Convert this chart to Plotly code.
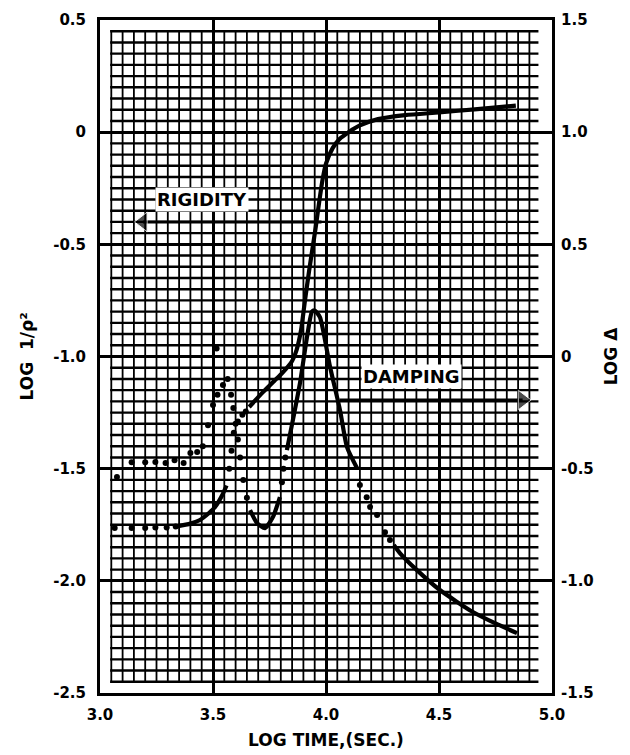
import plotly.graph_objects as go

# ---------------- data ----------------
# x : LOG TIME (sec)
# Rigidity, left axis (LOG 1/rho^2)
rig_dot1_x = [3.065, 3.14, 3.20, 3.245, 3.295, 3.335]
rig_dot1_y = [-1.765, -1.765, -1.765, -1.762, -1.762, -1.758]
rig_sol1_x = [3.34, 3.40, 3.44, 3.48, 3.51, 3.54, 3.56]
rig_sol1_y = [-1.757, -1.745, -1.73, -1.70, -1.67, -1.62, -1.575]
rig_dot2_x = [3.572, 3.582, 3.592, 3.61, 3.63, 3.645]
rig_dot2_y = [-1.50, -1.42, -1.34, -1.29, -1.26, -1.245]
rig_sol2_x = [3.66, 3.72, 3.77, 3.81, 3.85, 3.87, 3.89, 3.907, 3.925, 3.94,
              3.955, 3.97, 3.985, 4.00, 4.03, 4.06, 4.10, 4.15, 4.23, 4.35,
              4.50, 4.67, 4.84]
rig_sol2_y = [-1.225, -1.16, -1.11, -1.07, -1.02, -0.97, -0.88, -0.75, -0.62, -0.52,
              -0.42, -0.31, -0.21, -0.14, -0.07, -0.03, 0.0, 0.03, 0.058, 0.076,
              0.088, 0.103, 0.118]

# Damping, right axis (LOG delta)
dam_dot1_x = [3.075, 3.14, 3.20, 3.245, 3.29, 3.33, 3.37, 3.40, 3.43, 3.455,
              3.478, 3.50, 3.52, 3.544, 3.565, 3.516,
              3.58, 3.59, 3.60, 3.61, 3.62, 3.634, 3.65]
dam_dot1_y = [-0.537, -0.471, -0.471, -0.470, -0.475, -0.462, -0.475, -0.430, -0.426, -0.400,
              -0.306, -0.216, -0.170, -0.127, -0.100, 0.036,
              -0.17, -0.23, -0.30, -0.37, -0.45, -0.55, -0.63]
dam_sol1_x = [3.664, 3.695, 3.73, 3.765, 3.796]
dam_sol1_y = [-0.685, -0.743, -0.765, -0.716, -0.627]
dam_dot2_x = [3.805, 3.812, 3.82]
dam_dot2_y = [-0.56, -0.50, -0.45]
dam_sol2_x = [3.827, 3.86, 3.885, 3.916, 3.938, 3.95, 3.973, 4.018, 4.062, 4.093, 4.137]
dam_sol2_y = [-0.417, -0.25, -0.118, 0.087, 0.20, 0.205, 0.176, -0.047, -0.239, -0.404, -0.497]
dam_dot3_x = [4.15, 4.18, 4.195, 4.226, 4.261, 4.283]
dam_dot3_y = [-0.573, -0.627, -0.671, -0.707, -0.783, -0.818]
dam_sol3_x = [4.30, 4.327, 4.40, 4.504, 4.65, 4.75, 4.845]
dam_sol3_y = [-0.84, -0.876, -0.95, -1.041, -1.139, -1.19, -1.233]

# direction arrows (tail, head)
rig_arrow_x = [3.98, 3.19]
rig_arrow_y = [-0.40, -0.40]
dam_arrow_x = [4.06, 4.87]
dam_arrow_y = [-0.194, -0.194]

# tick labels
x_tick_vals = [3.0, 3.5, 4.0, 4.5, 5.0]
x_tick_text = ["3.0", "3.5", "4.0", "4.5", "5.0"]
yl_tick_vals = [0.5, 0.0, -0.5, -1.0, -1.5, -2.0, -2.5]
yl_tick_text = ["0.5", "0", "-0.5", "-1.0", "-1.5", "-2.0", "-2.5"]
yr_tick_vals = [1.5, 1.0, 0.5, 0.0, -0.5, -1.0, -1.5]
yr_tick_text = ["1.5", "1.0", "0.5", "0", "-0.5", "-1.0", "-1.5"]

# ---------------- figure ----------------
FONT = "DejaVu Sans"
BLACK = "#000000"
LW = 4.2
MS = 6

fig = go.Figure()

def solid(x, y, yaxis):
    fig.add_trace(go.Scatter(x=x, y=y, mode="lines", yaxis=yaxis,
                             line=dict(color=BLACK, width=LW, shape="spline", smoothing=0.6),
                             showlegend=False))

def dotted(x, y, yaxis):
    fig.add_trace(go.Scatter(x=x, y=y, mode="markers", yaxis=yaxis,
                             marker=dict(color=BLACK, size=MS, symbol="circle"),
                             showlegend=False))

def arrow(x, y, yaxis, head):
    fig.add_trace(go.Scatter(x=x, y=y, mode="lines+markers", yaxis=yaxis,
                             line=dict(color=BLACK, width=3),
                             marker=dict(color=BLACK, size=[0, 17], symbol=["circle", head]),
                             showlegend=False))

dotted(rig_dot1_x, rig_dot1_y, "y")
solid(rig_sol1_x, rig_sol1_y, "y")
dotted(rig_dot2_x, rig_dot2_y, "y")
solid(rig_sol2_x, rig_sol2_y, "y")

dotted(dam_dot1_x, dam_dot1_y, "y2")
solid(dam_sol1_x, dam_sol1_y, "y2")
dotted(dam_dot2_x, dam_dot2_y, "y2")
solid(dam_sol2_x, dam_sol2_y, "y2")
dotted(dam_dot3_x, dam_dot3_y, "y2")
solid(dam_sol3_x, dam_sol3_y, "y2")

arrow(rig_arrow_x, rig_arrow_y, "y", "triangle-left")
arrow(dam_arrow_x, dam_arrow_y, "y2", "triangle-right")

# graph-paper ruling (every 0.05 unit) inside the frame
gx0, gx1 = 3.045, 4.94
gy0, gy1 = -2.455, 0.455
shapes = []
for k in range(-49, 10):          # horizontal rules  -2.45 ... 0.45
    yv = round(k * 0.05, 3)
    shapes.append(dict(type="line", xref="x", yref="y", x0=gx0, x1=gx1, y0=yv, y1=yv,
                       line=dict(color=BLACK, width=2.4), layer="below"))
for k in range(61, 99):           # vertical rules  3.05 ... 4.90
    xv = round(k * 0.05, 3)
    shapes.append(dict(type="line", xref="x", yref="y", x0=xv, x1=xv, y0=gy0, y1=gy1,
                       line=dict(color=BLACK, width=1.8), layer="below"))

tickfont = dict(family=FONT, size=15, color=BLACK, weight="bold")
titlefont = dict(family=FONT, size=17, color=BLACK, weight="bold")

fig.update_layout(
    width=630, height=755, autosize=False,
    margin=dict(l=100, r=78, t=20, b=62),
    paper_bgcolor="white",
    plot_bgcolor="white",
    showlegend=False,
    shapes=shapes,
    xaxis=dict(range=[3, 5], automargin=False,
               tickvals=x_tick_vals, ticktext=x_tick_text, tickfont=tickfont,
               ticks="", ticklabelstandoff=6, showgrid=True, gridcolor=BLACK, gridwidth=2.5,
               showline=True, mirror=True, linecolor=BLACK, linewidth=3, zeroline=False,
               title=dict(text="LOG TIME,(SEC.)", font=titlefont, standoff=12)),
    yaxis=dict(range=[-2.5, 0.5], automargin=False,
               tickvals=yl_tick_vals, ticktext=yl_tick_text, tickfont=tickfont,
               ticks="", ticklabelstandoff=8, showgrid=True, gridcolor=BLACK, gridwidth=2.8,
               showline=True, mirror=True, linecolor=BLACK, linewidth=3, zeroline=False,
               title=dict(text="LOG  1/ρ²", font=titlefont, standoff=16)),
    yaxis2=dict(overlaying="y", side="right", anchor="x", range=[-1.5, 1.5], automargin=False,
                tickvals=yr_tick_vals, ticktext=yr_tick_text, tickfont=tickfont,
                ticks="", ticklabelstandoff=8, showgrid=False, showline=False, zeroline=False,
                title=dict(text="LOG Δ", font=titlefont, standoff=12)),
    annotations=[
        dict(text="RIGIDITY", x=3.45, y=-0.30, xref="x", yref="y", showarrow=False,
             font=dict(family=FONT, size=18, color=BLACK, weight="bold"), bgcolor="white"),
        dict(text="DAMPING", x=4.38, y=-0.09, xref="x", yref="y2", showarrow=False,
             font=dict(family=FONT, size=18, color=BLACK, weight="bold"), bgcolor="white"),
    ],
)

fig.write_html("out.html")
